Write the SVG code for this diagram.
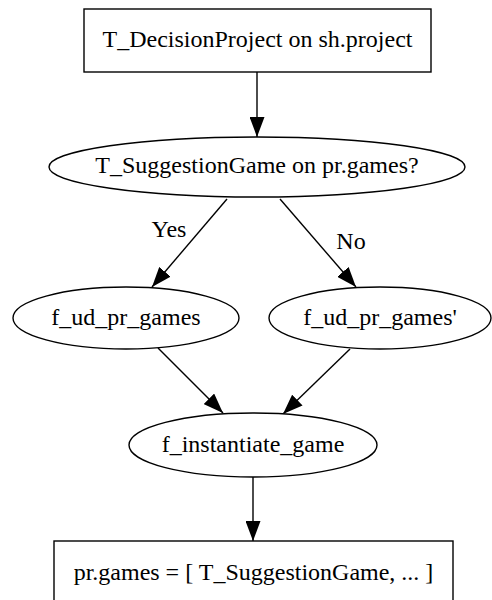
<svg xmlns="http://www.w3.org/2000/svg" width="492" height="600" viewBox="0 0 492 600">
<style>
.n{fill:#fff;stroke:#000;stroke-width:1.4}
.t{font-family:"Liberation Serif","Times New Roman",serif;font-size:24px;fill:#000;text-anchor:middle}
.e{stroke:#000;stroke-width:1.4;fill:none;marker-end:url(#a)}
</style>
<defs>
<marker id="a" markerUnits="userSpaceOnUse" markerWidth="20" markerHeight="15" refX="20" refY="7.5" orient="auto" viewBox="0 0 20 15">
<path d="M0,0 L20,7.5 L0,15 z" fill="#000"/>
</marker>
</defs>
<rect width="492" height="600" fill="#fff"/>
<g id="connectors">
<line class="e" x1="257" y1="72" x2="257" y2="137"/>
<line class="e" x1="227" y1="199" x2="152" y2="287"/>
<line class="e" x1="280" y1="199" x2="356" y2="287"/>
<line class="e" x1="158" y1="348" x2="223" y2="413"/>
<line class="e" x1="350" y1="349" x2="283" y2="414"/>
<line class="e" x1="253" y1="477" x2="253" y2="541"/>
<text class="t" x="169" y="237">Yes</text>
<text class="t" x="351" y="249">No</text>
</g>
<g id="n1">
<rect class="n" x="84" y="9" width="347" height="63"/>
<text class="t" x="257.5" y="47">T_DecisionProject on sh.project</text>
</g>
<g id="n2">
<ellipse class="n" cx="257" cy="167" rx="208" ry="30"/>
<text class="t" x="257" y="173">T_SuggestionGame on pr.games?</text>
</g>
<g id="n3">
<ellipse class="n" cx="126" cy="318" rx="113" ry="31"/>
<text class="t" x="126" y="325">f_ud_pr_games</text>
</g>
<g id="n4">
<ellipse class="n" cx="380" cy="318" rx="111" ry="31"/>
<text class="t" x="380" y="325">f_ud_pr_games'</text>
</g>
<g id="n5">
<ellipse class="n" cx="253" cy="445" rx="124" ry="32"/>
<text class="t" x="253" y="452">f_instantiate_game</text>
</g>
<g id="n6">
<rect class="n" x="54" y="541" width="399" height="63"/>
<text class="t" x="253.5" y="580">pr.games = [ T_SuggestionGame, ... ]</text>
</g>
</svg>
